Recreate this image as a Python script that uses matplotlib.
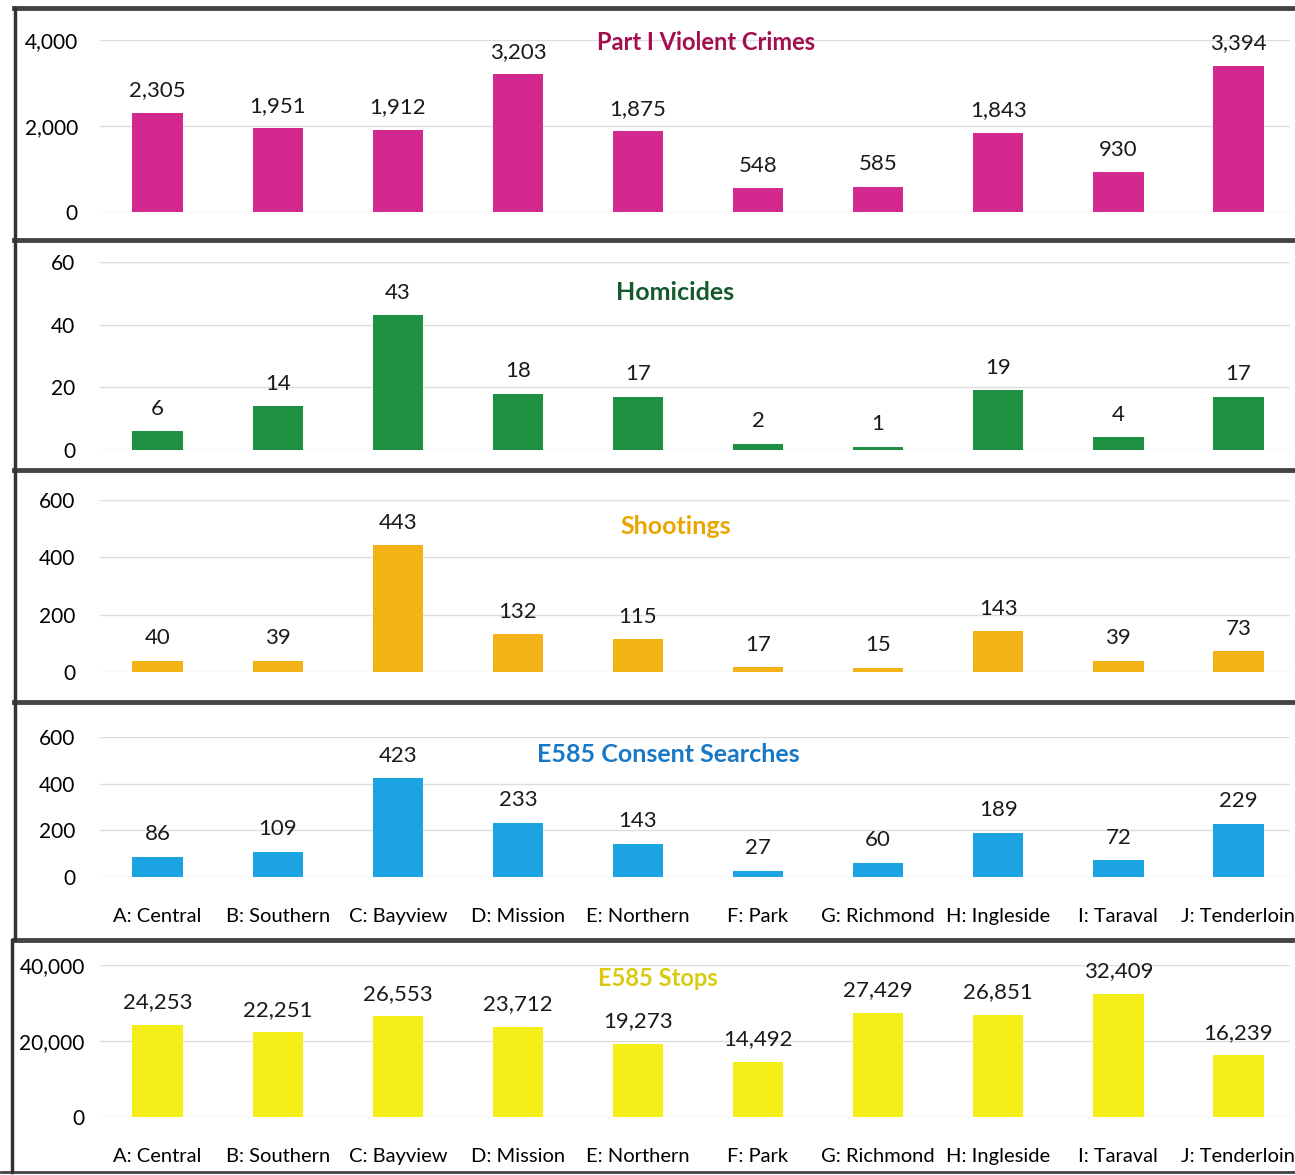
import matplotlib

matplotlib.use('Agg')
import matplotlib.pyplot as plt
from matplotlib.lines import Line2D

plt.rcParams['font.family'] = ['Lato', 'DejaVu Sans']

districts = ['A: Central', 'B: Southern', 'C: Bayview', 'D: Mission', 'E: Northern',
             'F: Park', 'G: Richmond', 'H: Ingleside', 'I: Taraval', 'J: Tenderloin']

violent = [2305, 1951, 1912, 3203, 1875, 548, 585, 1843, 930, 3394]
homicides = [6, 14, 43, 18, 17, 2, 1, 19, 4, 17]
shootings = [40, 39, 443, 132, 115, 17, 15, 143, 39, 73]
searches = [86, 109, 423, 233, 143, 27, 60, 189, 72, 229]
stops = [24253, 22251, 26553, 23712, 19273, 14492, 27429, 26851, 32409, 16239]

W, H = 1295, 1175
fig = plt.figure(figsize=(W / 100, H / 100), dpi=100)

# panel: values, title, bar colour, title colour, title size, title x(px), title y(px),
#        y-axis top px, y-axis zero px, ymax, yticks, ytick pad, show x labels
panels = [
    (violent, 'Part I Violent Crimes', '#d3288e', '#a3104f', 17, 706, 42, 40, 212, 4000, [0, 2000, 4000], 16, False),
    (homicides, 'Homicides', '#1f9142', '#145a2c', 18, 675, 293, 262, 450, 60, [0, 20, 40, 60], 18, False),
    (shootings, 'Shootings', '#f3b216', '#eaa600', 18, 676, 527, 500, 672, 600, [0, 200, 400, 600], 18, False),
    (searches, 'E585 Consent Searches', '#1ca4e2', '#1878c6', 18, 668, 755, 737, 877, 600, [0, 200, 400, 600], 18, True),
    (stops, 'E585 Stops', '#f6ee18', '#d8cc10', 17, 658, 978, 965, 1117, 40000, [0, 20000, 40000], 11, True),
]

left_px, right_px = 100, 1290
for vals, title, col, tcol, tsize, tx, ty, top_px, zero_px, ymax, yt, ypad, showx in panels:
    ax = fig.add_axes([left_px / W, 1 - zero_px / H, (right_px - left_px) / W, (zero_px - top_px) / H])
    x = range(len(vals))
    ax.bar(x, vals, width=0.42, color=col, zorder=2)
    ax.set_xlim(-0.48, 9.43)
    ax.set_ylim(0, ymax)
    ax.set_yticks(yt)
    ax.set_yticklabels([f'{v:,}' for v in yt], fontsize=15)
    ax.tick_params(axis='y', length=0, pad=ypad)
    ax.grid(axis='y', color='#dddddd', linewidth=1, zorder=0)
    for s in ax.spines.values():
        s.set_visible(False)
    if showx:
        ax.set_xticks(list(x))
        ax.set_xticklabels(districts, fontsize=14.5)
        ax.tick_params(axis='x', length=0, pad=22)
    else:
        ax.set_xticks([])
    for i, v in enumerate(vals):
        ax.annotate(f'{v:,}', (i, v), xytext=(0, 9), textcoords='offset points',
                    ha='center', va='bottom', fontsize=16, color='#1a1a1a', clip_on=False)
    fig.text(tx / W, 1 - ty / H, title, color=tcol, fontsize=tsize, fontweight='bold',
             ha='center', va='center')

# panel borders
for yp in [8, 240, 470, 702, 940]:
    fig.add_artist(Line2D([14 / W, 1], [1 - yp / H, 1 - yp / H], color='#444444',
                          linewidth=3.5, transform=fig.transFigure))
fig.add_artist(Line2D([1 / W, 1], [1 - 1172 / H, 1 - 1172 / H], color='#444444',
                      linewidth=2, transform=fig.transFigure))
fig.add_artist(Line2D([15 / W, 15 / W], [1 - 8 / H, 1 - 940 / H], color='#333333',
                      linewidth=2.5, transform=fig.transFigure))
fig.add_artist(Line2D([12 / W, 12 / W], [1 - 940 / H, 1 - 1172 / H], color='#333333',
                      linewidth=2.5, transform=fig.transFigure))

fig.savefig('out.png', dpi=100)
